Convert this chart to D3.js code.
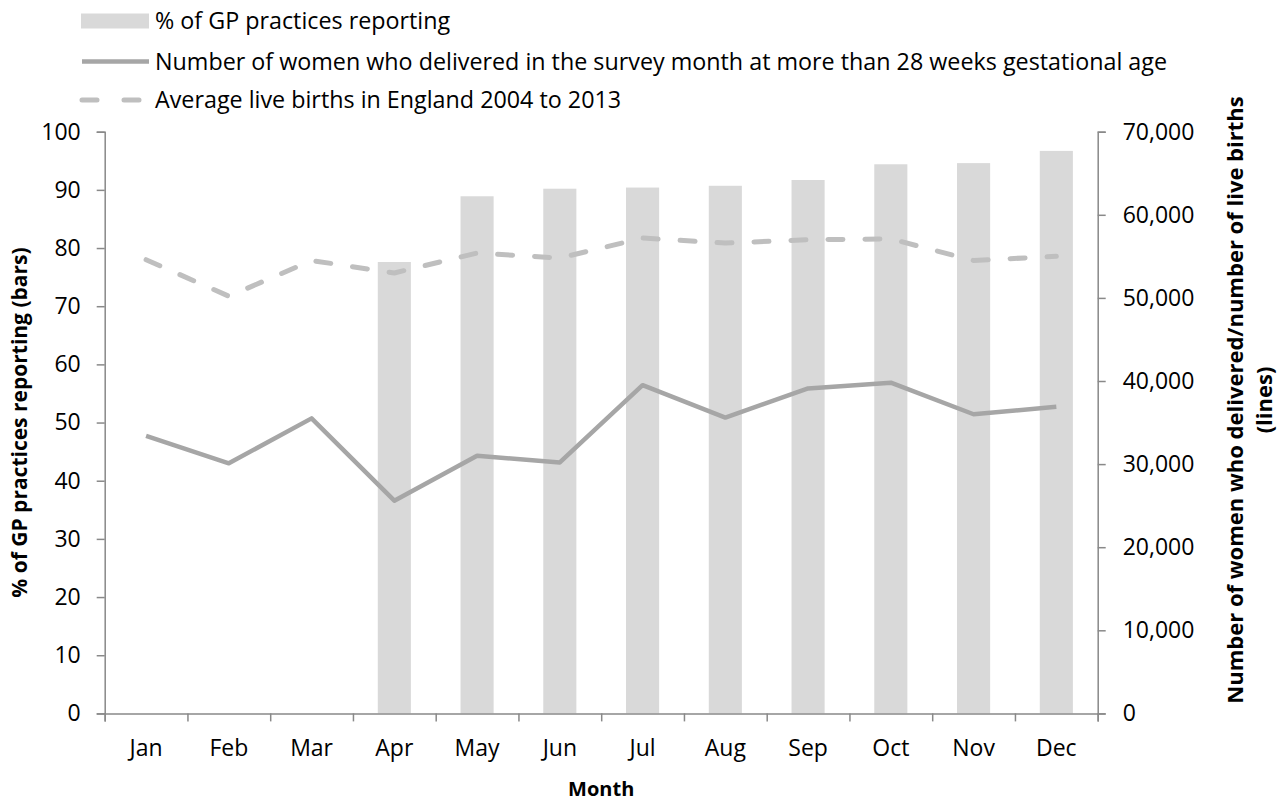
<!DOCTYPE html>
<html>
<head>
<meta charset="utf-8">
<script src="https://cdn.jsdelivr.net/npm/d3@7"></script>
<style>
  html, body { margin: 0; padding: 0; background: #fff; }
  svg { display: block; font-family: "Open Sans", sans-serif; }
</style>
</head>
<body>
<svg id="chart" width="1279" height="803"></svg>
<script>
// ---- data ----
const months = ["Jan", "Feb", "Mar", "Apr", "May", "Jun", "Jul", "Aug", "Sep", "Oct", "Nov", "Dec"];
const gpReportingPct = [null, null, null, 77.6, 88.9, 90.2, 90.4, 90.7, 91.7, 94.4, 94.6, 96.7];
const womenDelivered = [33400, 30100, 35500, 25600, 31000, 30200, 39500, 35600, 39100, 39800, 36000, 36900];
const avgLiveBirths = [54600, 50200, 54500, 53000, 55400, 54800, 57200, 56600, 57000, 57100, 54500, 55000];
const leftTicks = [0, 10, 20, 30, 40, 50, 60, 70, 80, 90, 100];
const rightTicks = [0, 10000, 20000, 30000, 40000, 50000, 60000, 70000];
const legendLabels = [
  "% of GP practices reporting",
  "Number of women who delivered in the survey month at more than 28 weeks gestational age",
  "Average live births in England 2004 to 2013"
];

// ---- layout ----
const plot = { left: 104.7, right: 1097.7, top: 131.7, bottom: 713.4 };
const colBar = "#d9d9d9", colSolid = "#a6a6a6", colDash = "#bfbfbf", colAxis = "#898989";
const dash = "15,22";

const svg = d3.select("#chart");

const x = d3.scaleBand().domain(months).range([plot.left, plot.right])
  .paddingInner(0.6).paddingOuter(0.3);
const xEdge = d3.scaleLinear().domain([0, months.length]).range([plot.left, plot.right]);
const yL = d3.scaleLinear().domain([0, 100]).range([plot.bottom, plot.top]);
const yR = d3.scaleLinear().domain([0, 70000]).range([plot.bottom, plot.top]);
const cx = m => x(m) + x.bandwidth() / 2;

// bars
svg.append("g").selectAll("rect")
  .data(months.map((m, i) => ({ m, v: gpReportingPct[i] })).filter(d => d.v != null))
  .join("rect")
  .attr("x", d => x(d.m))
  .attr("width", x.bandwidth())
  .attr("y", d => yL(d.v))
  .attr("height", d => yL(0) - yL(d.v))
  .attr("fill", colBar);

// lines
const line = d3.line().x(d => cx(d.m)).y(d => yR(d.v));
svg.append("path")
  .datum(months.map((m, i) => ({ m, v: avgLiveBirths[i] })))
  .attr("d", line)
  .attr("fill", "none").attr("stroke", colDash).attr("stroke-width", 5)
  .attr("stroke-dasharray", dash).attr("stroke-linecap", "round").attr("stroke-linejoin", "round");
svg.append("path")
  .datum(months.map((m, i) => ({ m, v: womenDelivered[i] })))
  .attr("d", line)
  .attr("fill", "none").attr("stroke", colSolid).attr("stroke-width", 4.5)
  .attr("stroke-linejoin", "round");

// axes
function styleAxis(g) {
  g.selectAll("path.domain, line").attr("stroke", colAxis).attr("stroke-width", 1.5);
  g.selectAll("text").attr("fill", "#000").style("font-family", "Open Sans").style("font-size", "23px");
}
svg.append("g").attr("transform", `translate(${plot.left},0)`)
  .call(d3.axisLeft(yL).tickValues(leftTicks).tickSize(8).tickSizeOuter(8).tickPadding(16))
  .call(styleAxis);
svg.append("g").attr("transform", `translate(${plot.right},0)`)
  .call(d3.axisRight(yR).tickValues(rightTicks).tickFormat(d3.format(",")).tickSize(8).tickSizeOuter(8).tickPadding(17))
  .call(styleAxis);
svg.append("g").attr("transform", `translate(0,${plot.bottom})`)
  .call(d3.axisBottom(xEdge).ticks(months.length).tickFormat("").tickSize(8).tickSizeOuter(8))
  .call(styleAxis);
svg.append("g").attr("transform", `translate(0,${plot.bottom})`)
  .call(d3.axisBottom(x).tickSize(0).tickPadding(26))
  .call(g => g.select(".domain").remove())
  .call(styleAxis);

// axis titles
svg.append("text")
  .attr("transform", `translate(27,${(plot.top + plot.bottom) / 2}) rotate(-90)`)
  .attr("text-anchor", "middle").style("font-weight", "bold").style("font-size", "21px")
  .text("% of GP practices reporting (bars)");
const rt = svg.append("text")
  .attr("transform", `translate(1243,400) rotate(-90)`)
  .attr("text-anchor", "middle").style("font-weight", "bold").style("font-size", "22px");
rt.append("tspan").attr("x", 0).attr("y", 0).text("Number of women who delivered/number of live births");
rt.append("tspan").attr("x", 0).attr("y", 29).text("(lines)");
svg.append("text")
  .attr("x", (plot.left + plot.right) / 2).attr("y", 796)
  .attr("text-anchor", "middle").style("font-weight", "bold").style("font-size", "20px")
  .text("Month");

// legend
const lg = svg.append("g");
const rows = [21, 61.5, 100];
lg.append("rect").attr("x", 81).attr("y", rows[0] - 7.5).attr("width", 68).attr("height", 15).attr("fill", colBar);
lg.append("line").attr("x1", 82).attr("x2", 149).attr("y1", rows[1]).attr("y2", rows[1])
  .attr("stroke", colSolid).attr("stroke-width", 4.5);
lg.append("line").attr("x1", 82).attr("x2", 149).attr("y1", rows[2]).attr("y2", rows[2])
  .attr("stroke", colDash).attr("stroke-width", 5).attr("stroke-dasharray", "15,27").attr("stroke-linecap", "round");
lg.selectAll("text.lt").data(legendLabels).join("text").attr("class", "lt")
  .attr("x", 155).attr("y", (d, i) => rows[i]).attr("dy", "0.36em")
  .style("font-size", "23.3px").attr("fill", "#000").text(d => d);
</script>
</body>
</html>
